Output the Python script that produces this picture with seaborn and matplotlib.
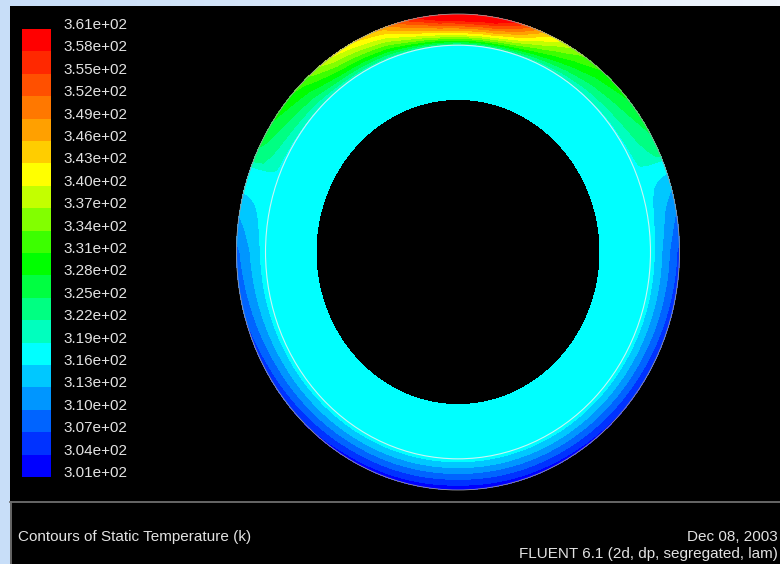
import numpy as np
import pandas as pd
import matplotlib
matplotlib.use("Agg")
import matplotlib.pyplot as plt
from matplotlib.patches import Ellipse, Rectangle
from matplotlib.colors import ListedColormap
import seaborn as sns

# ---------------- data ----------------
level_labels = ["3.61e+02", "3.58e+02", "3.55e+02", "3.52e+02", "3.49e+02",
                "3.46e+02", "3.43e+02", "3.40e+02", "3.37e+02", "3.34e+02",
                "3.31e+02", "3.28e+02", "3.25e+02", "3.22e+02", "3.19e+02",
                "3.16e+02", "3.13e+02", "3.10e+02", "3.07e+02", "3.04e+02",
                "3.01e+02"]
level_edges = [301, 304, 307, 310, 313, 316, 319, 322, 325, 328, 331,
               334, 337, 340, 343, 346, 349, 352, 355, 358, 361]
# band colours, coldest -> hottest
band_colors = ["#0000ff", "#0032ff", "#0064ff", "#0096ff", "#00c8ff",
               "#00ffff", "#00ffbe", "#00ff82", "#00ff41", "#00ff00",
               "#3cff00", "#82ff00", "#c3ff00", "#ffff00", "#ffcd00",
               "#ffa000", "#ff7800", "#ff5000", "#ff2800", "#ff0000"]
# outer wall temperature around the annulus (angle from +x, counter-clockwise)
wall_angle_deg = [-90, -60, -30, 0, 10, 17, 20, 22.5, 24, 30, 40, 50, 57, 62.5,
                  68, 74, 80, 87, 95, 102, 110, 118, 125, 135, 145, 152, 157,
                  159, 163, 168, 180, 210, 240]
wall_temp_k = [301.5, 302.5, 304.0, 306.0, 310.0, 314.0, 316.5, 318.5, 322.5,
               325.0, 328.0, 331.0, 335.0, 340.0, 347.0, 357.0, 364.0, 366.0,
               364.0, 357.0, 347.0, 343.0, 340.0, 332.0, 328.5, 326.0, 323.5,
               319.0, 317.5, 314.5, 309.0, 305.0, 302.5]
core_temp_k = 317.5
radius_inner, radius_interface, radius_outer = 0.641, 0.869, 1.0
hot_profile_exponent, cold_profile_exponent = 0.7, 1.0
title_text = "Contours of Static Temperature (k)"
date_text = "Dec 08, 2003"
solver_text = "FLUENT 6.1 (2d, dp, segregated, lam)"

# ---------------- figure ----------------
W, H = 780, 564
fig = plt.figure(figsize=(W / 100, H / 100), dpi=100)
ax = fig.add_axes([0, 0, 1, 1])
ax.set_xlim(0, W)
ax.set_ylim(H, 0)
ax.axis("off")

# light-blue page background
gx = np.linspace(0, 1, 256)
c0 = np.array([200, 222, 248]) / 255
c1 = np.array([240, 245, 252]) / 255
grad = (c0[None, None, :] * (1 - gx[None, :, None]) + c1[None, None, :] * gx[None, :, None])
grad = np.repeat(grad, 2, axis=0)
ax.imshow(grad, extent=(0, W, H, 0), aspect="auto", zorder=0)

# black graphics panel
ax.add_patch(Rectangle((10, 6), W - 10, H - 6, facecolor="black",
                       edgecolor="none", zorder=1))

# temperature field on a polar mesh of the (slightly elliptical) annulus
cx, cy, sa, sb = 458.0, 252.0, 221.5, 238.0
r = np.linspace(radius_inner, radius_outer, 300)
th = np.linspace(-np.pi, np.pi, 1801)
R, TH = np.meshgrid(r, th)
Tw = np.interp(np.degrees(TH), wall_angle_deg, wall_temp_k, period=360)
s = np.clip((R - radius_interface) / (radius_outer - radius_interface), 0, None)
expo = np.where(Tw > core_temp_k, hot_profile_exponent, cold_profile_exponent)
T = core_temp_k + (Tw - core_temp_k) * s ** expo
T = np.clip(T, level_edges[0] + 0.01, level_edges[-1] - 0.01)
X = cx + sa * R * np.cos(TH)
Y = cy - sb * R * np.sin(TH)
ax.contourf(X, Y, T, levels=level_edges, colors=band_colors, zorder=2)

# interface line and outer wall outline
ax.add_patch(Ellipse((cx, cy), 2 * sa * radius_interface, 2 * sb * radius_interface,
                     fill=False, edgecolor="#c8f4f4", lw=0.8, zorder=3))
ax.add_patch(Ellipse((cx, cy), 2 * sa * radius_outer, 2 * sb * radius_outer,
                     fill=False, edgecolor="#9a9a9a", lw=0.6, zorder=3))

# bottom caption box
ax.plot([10, W], [502, 502], color="#6e6e6e", lw=1.3, zorder=4)
ax.plot([10.5, 10.5], [502, H], color="#6e6e6e", lw=1.3, zorder=4)

txt_kw = dict(color="#e2e2e2", fontsize=11, family=["Liberation Sans", "DejaVu Sans"], zorder=5)
ax.text(18, 537, title_text, va="center", ha="left", **txt_kw)
ax.text(778, 537, date_text, va="center", ha="right", **txt_kw)
ax.text(778, 554, solver_text, va="center", ha="right", **txt_kw)

# colour bar drawn as a seaborn heatmap
cb_top, cb_bot = 29, 477
cax = fig.add_axes([22 / W, 1 - cb_bot / H, 29 / W, (cb_bot - cb_top) / H])
mids = [(level_edges[i] + level_edges[i + 1]) / 2 for i in range(len(band_colors))]
cb_df = pd.DataFrame({"T": mids[::-1]})
sns.heatmap(cb_df, ax=cax, cmap=ListedColormap(band_colors),
            vmin=level_edges[0], vmax=level_edges[-1], cbar=False,
            xticklabels=False, yticklabels=False, linewidths=0)
cax.set_xlabel("")
cax.set_ylabel("")

step = (cb_bot - cb_top) / (len(level_labels) - 1)
for i, lab in enumerate(level_labels):
    ax.text(63, cb_top + i * step, lab, va="baseline", ha="left", **txt_kw)

fig.savefig("out.png", dpi=100, facecolor=fig.get_facecolor())
